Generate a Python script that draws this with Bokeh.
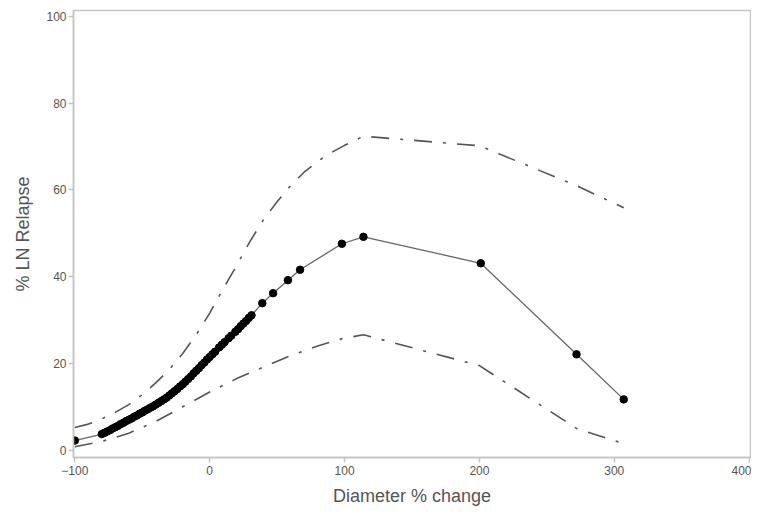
from bokeh.plotting import figure
from bokeh.models import Range1d, FixedTicker
from bokeh.embed import file_html
from bokeh.resources import INLINE

# Predicted % LN relapse vs diameter % change
main_x = [-100,
          -80, -78, -76, -74, -72, -70, -68, -66, -64, -62, -60, -58, -56, -54, -52,
          -50, -48, -46, -44, -42, -40, -38, -36, -34, -32, -30, -28, -26, -24, -22,
          -20, -18, -16, -14, -12, -10, -8, -6, -4, -2, 0, 2, 4,
          7, 9, 11, 14, 16, 19, 21, 23, 25, 27, 29, 31,
          39, 47, 58, 67, 98, 114, 201, 272, 307]
main_y = [2.2,
          3.7, 4.0, 4.3, 4.6, 5.0, 5.3, 5.6, 6.0, 6.3, 6.7, 7.0, 7.3, 7.7, 8.0, 8.4,
          8.7, 9.1, 9.4, 9.8, 10.1, 10.5, 10.9, 11.3, 11.7, 12.1, 12.6, 13.1, 13.6, 14.1, 14.7,
          15.2, 15.8, 16.4, 17.0, 17.7, 18.3, 18.9, 19.6, 20.2, 20.9, 21.5, 22.1, 22.7,
          23.7, 24.3, 24.9, 25.8, 26.4, 27.3, 27.9, 28.6, 29.2, 29.8, 30.5, 31.1,
          33.9, 36.2, 39.2, 41.6, 47.6, 49.2, 43.1, 22.1, 11.7]

# Upper confidence limit (dash-dot)
upper_x = [-100, -90, -80, -70, -60, -50, -40, -30, -20, -10, 0, 10, 20, 30, 40,
           50, 60, 70, 80, 90, 100, 114, 200, 272, 307]
upper_y = [5.2, 6.0, 7.2, 8.7, 10.5, 12.8, 15.5, 18.6, 22.3, 26.6, 31.6, 37.2, 42.6, 48.2, 53.2,
           57.3, 61.0, 64.1, 66.6, 68.6, 70.3, 72.4, 70.2, 61.0, 55.9]

# Lower confidence limit (dash-dot)
lower_x = [-100, -80, -60, -40, -20, 0, 20, 40, 60, 80, 98, 114, 200, 272, 307]
lower_y = [0.8, 2.0, 3.9, 6.6, 10.0, 13.4, 16.5, 19.2, 21.8, 24.0, 25.7, 26.6, 19.5, 5.0, 1.5]

x_ticks = [-100, 0, 100, 200, 300, 400]
y_ticks = [0, 20, 40, 60, 80, 100]

p = figure(width=751, height=510, output_backend="svg", toolbar_location=None,
           x_range=Range1d(-101, 401), y_range=Range1d(-1.7, 101.4),
           min_border_left=73, min_border_right=1, min_border_top=10,
           min_border_bottom=53, background_fill_color="white",
           border_fill_color="white")

p.xgrid.visible = False
p.ygrid.visible = False
p.outline_line_color = "#c4c4c4"
p.outline_line_width = 1.5

for ax in (p.xaxis[0], p.yaxis[0]):
    ax.axis_line_color = "#c4c4c4"
    ax.axis_line_width = 1.5
    ax.major_tick_line_color = "#c4c4c4"
    ax.major_tick_line_width = 1.5
    ax.major_tick_out = 5
    ax.major_tick_in = 0
    ax.minor_tick_line_color = None
    ax.major_label_text_font = "Liberation Sans"
    ax.major_label_text_font_size = "12px"
    ax.major_label_text_color = "#555555"
    ax.axis_label_text_font = "Liberation Sans"
    ax.axis_label_text_font_size = "18px"
    ax.axis_label_text_font_style = "normal"
    ax.axis_label_text_color = "#555555"

p.xaxis.ticker = FixedTicker(ticks=x_ticks)
p.yaxis.ticker = FixedTicker(ticks=y_ticks)
p.xaxis.axis_label = "Diameter % change"
p.yaxis.axis_label = "% LN Relapse"
p.xaxis.major_label_standoff = 3
p.xaxis.axis_label_standoff = 8
p.yaxis.major_label_standoff = 2
p.yaxis.axis_label_standoff = 10

dash = "18 11 3 11"
p.line(upper_x, upper_y, line_color="#555555", line_width=1.6, line_dash=dash)
p.line(lower_x, lower_y, line_color="#555555", line_width=1.6, line_dash=dash)
p.line(main_x, main_y, line_color="#666666", line_width=1.3)
p.scatter(main_x, main_y, marker="circle", size=7.5, fill_color="black", line_color="black")

open("out.html", "w").write(file_html(p, INLINE))
